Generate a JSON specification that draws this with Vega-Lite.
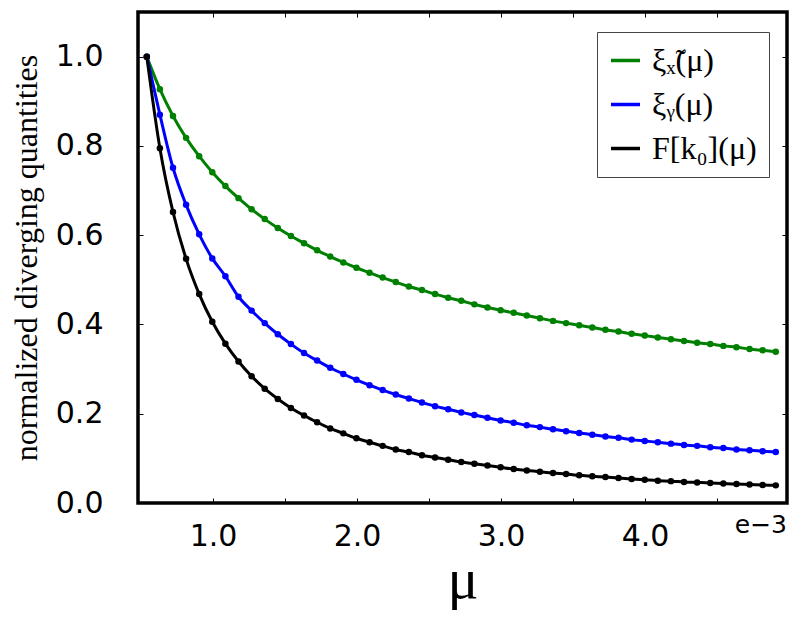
{
  "$schema": "https://vega.github.io/schema/vega-lite/v6.json",
  "width": 649,
  "height": 491,
  "autosize": {"type": "none"},
  "padding": {"left": 138, "top": 12, "right": 12, "bottom": 120},
  "background": "white",
  "config": {
    "view": {"stroke": "black", "strokeWidth": 3.5},
    "axis": {"domain": false, "grid": false, "tickColor": "black", "tickWidth": 1, "labelFont": "DejaVu Sans", "labelColor": "black", "titleColor": "black"}
  },
  "datasets": {
    "curves": [
      {"mu":0.540,"s":"gx","v":1.000},{"mu":0.631,"s":"gx","v":0.927},{"mu":0.722,"s":"gx","v":0.867},{"mu":0.813,"s":"gx","v":0.818},{"mu":0.904,"s":"gx","v":0.777},{"mu":0.995,"s":"gx","v":0.741},{"mu":1.086,"s":"gx","v":0.710},{"mu":1.177,"s":"gx","v":0.683},{"mu":1.268,"s":"gx","v":0.658},{"mu":1.359,"s":"gx","v":0.636},
      {"mu":1.450,"s":"gx","v":0.616},{"mu":1.541,"s":"gx","v":0.598},{"mu":1.632,"s":"gx","v":0.582},{"mu":1.723,"s":"gx","v":0.566},{"mu":1.814,"s":"gx","v":0.552},{"mu":1.905,"s":"gx","v":0.539},{"mu":1.996,"s":"gx","v":0.527},{"mu":2.087,"s":"gx","v":0.516},{"mu":2.178,"s":"gx","v":0.505},{"mu":2.269,"s":"gx","v":0.495},
      {"mu":2.360,"s":"gx","v":0.485},{"mu":2.451,"s":"gx","v":0.477},{"mu":2.542,"s":"gx","v":0.468},{"mu":2.633,"s":"gx","v":0.460},{"mu":2.724,"s":"gx","v":0.453},{"mu":2.815,"s":"gx","v":0.445},{"mu":2.906,"s":"gx","v":0.438},{"mu":2.997,"s":"gx","v":0.432},{"mu":3.088,"s":"gx","v":0.426},{"mu":3.179,"s":"gx","v":0.420},
      {"mu":3.270,"s":"gx","v":0.414},{"mu":3.361,"s":"gx","v":0.408},{"mu":3.452,"s":"gx","v":0.403},{"mu":3.543,"s":"gx","v":0.398},{"mu":3.634,"s":"gx","v":0.393},{"mu":3.725,"s":"gx","v":0.388},{"mu":3.816,"s":"gx","v":0.384},{"mu":3.907,"s":"gx","v":0.379},{"mu":3.998,"s":"gx","v":0.375},{"mu":4.089,"s":"gx","v":0.371},
      {"mu":4.180,"s":"gx","v":0.367},{"mu":4.271,"s":"gx","v":0.363},{"mu":4.362,"s":"gx","v":0.359},{"mu":4.453,"s":"gx","v":0.356},{"mu":4.544,"s":"gx","v":0.352},{"mu":4.635,"s":"gx","v":0.349},{"mu":4.726,"s":"gx","v":0.345},{"mu":4.817,"s":"gx","v":0.342},{"mu":4.908,"s":"gx","v":0.339},

      {"mu":0.540,"s":"by","v":1.000},{"mu":0.631,"s":"by","v":0.870},{"mu":0.722,"s":"by","v":0.751},{"mu":0.813,"s":"by","v":0.668},{"mu":0.904,"s":"by","v":0.602},{"mu":0.995,"s":"by","v":0.548},{"mu":1.086,"s":"by","v":0.508},{"mu":1.177,"s":"by","v":0.462},{"mu":1.268,"s":"by","v":0.431},{"mu":1.359,"s":"by","v":0.403},
      {"mu":1.450,"s":"by","v":0.378},{"mu":1.541,"s":"by","v":0.356},{"mu":1.632,"s":"by","v":0.336},{"mu":1.723,"s":"by","v":0.319},{"mu":1.814,"s":"by","v":0.303},{"mu":1.905,"s":"by","v":0.289},{"mu":1.996,"s":"by","v":0.276},{"mu":2.087,"s":"by","v":0.264},{"mu":2.178,"s":"by","v":0.253},{"mu":2.269,"s":"by","v":0.243},
      {"mu":2.360,"s":"by","v":0.234},{"mu":2.451,"s":"by","v":0.225},{"mu":2.542,"s":"by","v":0.217},{"mu":2.633,"s":"by","v":0.210},{"mu":2.724,"s":"by","v":0.203},{"mu":2.815,"s":"by","v":0.197},{"mu":2.906,"s":"by","v":0.191},{"mu":2.997,"s":"by","v":0.185},{"mu":3.088,"s":"by","v":0.180},{"mu":3.179,"s":"by","v":0.174},
      {"mu":3.270,"s":"by","v":0.170},{"mu":3.361,"s":"by","v":0.165},{"mu":3.452,"s":"by","v":0.161},{"mu":3.543,"s":"by","v":0.157},{"mu":3.634,"s":"by","v":0.153},{"mu":3.725,"s":"by","v":0.149},{"mu":3.816,"s":"by","v":0.146},{"mu":3.907,"s":"by","v":0.142},{"mu":3.998,"s":"by","v":0.139},{"mu":4.089,"s":"by","v":0.136},
      {"mu":4.180,"s":"by","v":0.133},{"mu":4.271,"s":"by","v":0.130},{"mu":4.362,"s":"by","v":0.128},{"mu":4.453,"s":"by","v":0.125},{"mu":4.544,"s":"by","v":0.123},{"mu":4.635,"s":"by","v":0.120},{"mu":4.726,"s":"by","v":0.118},{"mu":4.817,"s":"by","v":0.116},{"mu":4.908,"s":"by","v":0.114},

      {"mu":0.540,"s":"kF","v":1.000},{"mu":0.631,"s":"kF","v":0.795},{"mu":0.722,"s":"kF","v":0.652},{"mu":0.813,"s":"kF","v":0.547},{"mu":0.904,"s":"kF","v":0.468},{"mu":0.995,"s":"kF","v":0.406},{"mu":1.086,"s":"kF","v":0.357},{"mu":1.177,"s":"kF","v":0.317},{"mu":1.268,"s":"kF","v":0.284},{"mu":1.359,"s":"kF","v":0.256},
      {"mu":1.450,"s":"kF","v":0.233},{"mu":1.541,"s":"kF","v":0.213},{"mu":1.632,"s":"kF","v":0.196},{"mu":1.723,"s":"kF","v":0.181},{"mu":1.814,"s":"kF","v":0.167},{"mu":1.905,"s":"kF","v":0.156},{"mu":1.996,"s":"kF","v":0.145},{"mu":2.087,"s":"kF","v":0.136},{"mu":2.178,"s":"kF","v":0.128},{"mu":2.269,"s":"kF","v":0.120},
      {"mu":2.360,"s":"kF","v":0.114},{"mu":2.451,"s":"kF","v":0.107},{"mu":2.542,"s":"kF","v":0.102},{"mu":2.633,"s":"kF","v":0.097},{"mu":2.724,"s":"kF","v":0.092},{"mu":2.815,"s":"kF","v":0.088},{"mu":2.906,"s":"kF","v":0.084},{"mu":2.997,"s":"kF","v":0.080},{"mu":3.088,"s":"kF","v":0.076},{"mu":3.179,"s":"kF","v":0.073},
      {"mu":3.270,"s":"kF","v":0.070},{"mu":3.361,"s":"kF","v":0.067},{"mu":3.452,"s":"kF","v":0.065},{"mu":3.543,"s":"kF","v":0.062},{"mu":3.634,"s":"kF","v":0.060},{"mu":3.725,"s":"kF","v":0.058},{"mu":3.816,"s":"kF","v":0.056},{"mu":3.907,"s":"kF","v":0.054},{"mu":3.998,"s":"kF","v":0.052},{"mu":4.089,"s":"kF","v":0.050},
      {"mu":4.180,"s":"kF","v":0.049},{"mu":4.271,"s":"kF","v":0.047},{"mu":4.362,"s":"kF","v":0.046},{"mu":4.453,"s":"kF","v":0.045},{"mu":4.544,"s":"kF","v":0.0435},{"mu":4.635,"s":"kF","v":0.0425},{"mu":4.726,"s":"kF","v":0.0415},{"mu":4.817,"s":"kF","v":0.0405},{"mu":4.908,"s":"kF","v":0.0395}
    ]
  },
  "layer": [
    {
      "data": {"name": "curves"},
      "mark": {"type": "line", "strokeWidth": 3, "interpolate": "monotone"},
      "encoding": {
        "x": {
          "field": "mu", "type": "quantitative",
          "scale": {"domain": [0.479, 4.986], "nice": false, "zero": false},
          "axis": {
            "orient": "bottom", "values": [1, 1.5, 2, 2.5, 3, 3.5, 4, 4.5],
            "labelExpr": "datum.value % 1 === 0 ? format(datum.value, '.1f') : ''",
            "tickSize": -5, "labelPadding": 23, "labelFontSize": 30, "labelFlush": false, "labelOverlap": false,
            "title": "μ", "titleFont": "Liberation Serif", "titleFontSize": 58, "titleFontWeight": "normal", "titlePadding": 0
          }
        },
        "y": {
          "field": "v", "type": "quantitative",
          "scale": {"domain": [0, 1.1], "nice": false, "zero": false},
          "axis": {
            "orient": "left", "values": [0, 0.2, 0.4, 0.6, 0.8, 1.0], "format": ".1f",
            "tickSize": -5, "labelPadding": 40, "labelFontSize": 30, "labelFlush": false, "labelOverlap": false,
            "title": "normalized diverging quantities", "titleFont": "Liberation Serif", "titleFontSize": 32, "titleFontWeight": "normal", "titlePadding": 12
          }
        },
        "color": {
          "field": "s", "type": "nominal",
          "scale": {"domain": ["gx", "by", "kF"], "range": ["#008000", "#0000ff", "#000000"]},
          "legend": {
            "orient": "none", "legendX": 459, "legendY": 20, "title": null,
            "symbolType": "stroke", "symbolStrokeWidth": 3.5, "symbolSize": 841,
            "labelFont": "Liberation Serif", "labelFontSize": 32, "labelColor": "black", "labelOffset": 10,
            "rowPadding": 11, "padding": 12, "strokeColor": "#444444", "fillColor": "white",
            "labelExpr": "datum.value === 'gx' ? 'ξₓ̃(μ)' : datum.value === 'by' ? 'ξᵧ(μ)' : 'F[k₀](μ)'"
          }
        }
      }
    },
    {
      "data": {"name": "curves"},
      "mark": {"type": "point", "filled": true, "size": 42, "opacity": 1},
      "encoding": {
        "x": {"field": "mu", "type": "quantitative", "axis": {"orient": "top", "values": [1, 1.5, 2, 2.5, 3, 3.5, 4, 4.5], "labels": false, "tickSize": -5, "title": null}},
        "y": {"field": "v", "type": "quantitative", "axis": {"orient": "right", "values": [0, 0.2, 0.4, 0.6, 0.8, 1.0], "labels": false, "tickSize": -5, "title": null}},
        "color": {"field": "s", "type": "nominal", "legend": null}
      }
    },
    {
      "data": {"values": [{"note": "e−3"}]},
      "mark": {"type": "text", "align": "right", "baseline": "top", "font": "DejaVu Sans", "fontSize": 25, "color": "black"},
      "encoding": {
        "text": {"field": "note", "type": "nominal"},
        "x": {"datum": 4.986, "type": "quantitative", "axis": null},
        "y": {"datum": -0.0235, "type": "quantitative", "axis": null}
      }
    }
  ],
  "resolve": {"axis": {"x": "independent", "y": "independent"}}
}
